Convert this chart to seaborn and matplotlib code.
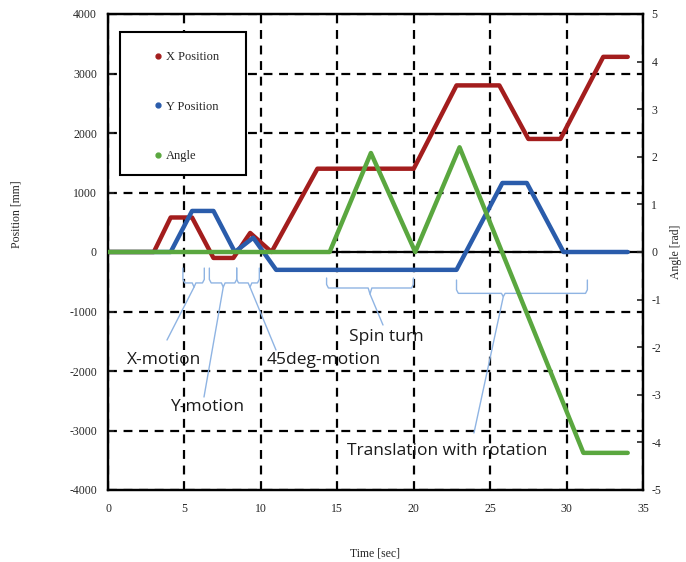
import pandas as pd
import matplotlib.pyplot as plt
import seaborn as sns
from matplotlib.lines import Line2D
from matplotlib.patches import Rectangle

# Dane
t_x = [0, 3, 4.1, 5.5, 6.9, 8.2, 9.3, 10.7, 13.7, 20, 22.8, 25.6, 27.5, 29.6, 32.4, 34]
x_pos = [0, 0, 580, 580, -100, -100, 320, 0, 1400, 1400, 2800, 2800, 1900, 1900, 3280, 3280]

t_y = [0, 4.1, 5.5, 6.9, 8.3, 9.5, 11.0, 22.8, 25.8, 27.4, 29.8, 34]
y_pos = [0, 0, 690, 690, 0, 240, -300, -300, 1160, 1160, 0, 0]

t_a = [0, 14.5, 17.2, 20.1, 23.0, 31.1, 34]
angle = [0, 0, 2.08, 0, 2.2, -4.22, -4.22]

series_names = ['X Position', 'Y Position', 'Angle']
colors = ['#a31d1d', '#2a5cab', '#5aa73f']

# Opisy fragmentów ruchu
labels = ['X-motion', 'Y-motion', '45deg-motion', 'Spin turn', 'Translation with rotation']
brace_x0 = [4.9, 6.63, 8.42, 14.3, 22.8]
brace_x1 = [6.3, 8.42, 9.9, 19.98, 31.36]
brace_mid = [5.63, 7.54, 9.29, 17.14, 25.86]
brace_top = [-270, -270, -270, -437, -471]
brace_line = [-520, -520, -520, -605, -695]
brace_tip = [-590, -590, -590, -706, -751]
lead_x = [3.86, 6.28, 10.99, 17.99, 23.94]
lead_y = [-1479, -2437, -1647, -1227, -3042]
text_x = [3.66, 6.46, 14.09, 18.23, 22.2]
text_y = [-1815, -2600, -1815, -1423, -3340]

df_x = pd.DataFrame({'t': t_x, 'v': x_pos})
df_y = pd.DataFrame({'t': t_y, 'v': y_pos})
df_a = pd.DataFrame({'t': t_a, 'v': angle})

sns.set_style('white')
plt.rcParams['font.family'] = ['Liberation Serif', 'DejaVu Serif']
plt.rcParams['axes.unicode_minus'] = False

fig = plt.figure(figsize=(6.86, 5.62), dpi=100)
ax = fig.add_axes([108 / 686, 72 / 562, 535 / 686, 476 / 562])
ax2 = ax.twinx()

sns.lineplot(data=df_x, x='t', y='v', ax=ax, color=colors[0], lw=3.2, estimator=None, zorder=4)
sns.lineplot(data=df_y, x='t', y='v', ax=ax, color=colors[1], lw=3.2, estimator=None, zorder=4)
sns.lineplot(data=df_a, x='t', y='v', ax=ax2, color=colors[2], lw=3.2, estimator=None, zorder=4)

ax.set_xlim(0, 35)
ax.set_ylim(-4000, 4000)
ax2.set_ylim(-5, 5)
ax.set_xticks(range(0, 36, 5))
ax.set_yticks(range(-4000, 4001, 1000))
ax2.set_yticks(range(-5, 6))

ax.grid(True, ls=(0, (4, 3)), color='black', lw=1.6)
ax.axhline(0, color='black', lw=1.6, zorder=2)

for a in (ax, ax2):
    for s in a.spines.values():
        s.set_color('black')
        s.set_linewidth(1.6)
ax.tick_params(axis='y', direction='in', length=4, width=1.2, labelsize=8.5, pad=8)
ax.tick_params(axis='x', length=0, labelsize=8.5, pad=9)
ax2.tick_params(axis='y', direction='in', length=4, width=1.2, labelsize=8.5, pad=6)

ax.set_xlabel('Time [sec]', fontsize=8.5)
ax.set_ylabel('Position [mm]', fontsize=8.5)
ax2.set_ylabel('Angle [rad]', fontsize=8.5, rotation=90)
ax.xaxis.set_label_coords(0.5, -0.12)
ax.yaxis.set_label_coords(-0.16, 0.58)
ax2.yaxis.set_label_coords(1.05, 0.5)

# Klamry i opisy
bc = '#8fb4e3'
for i, lab in enumerate(labels):
    x0, x1, xm = brace_x0[i], brace_x1[i], brace_mid[i]
    yt, yl, yp = brace_top[i], brace_line[i], brace_tip[i]
    d = 0.12
    bx = [x0, x0, x0 + d, xm - d, xm, xm + d, x1 - d, x1, x1]
    by = [yt, yl + 60, yl, yl, yp, yl, yl, yl + 60, yt]
    ax.plot(bx, by, color=bc, lw=1, zorder=3, solid_joinstyle='round')
    ax.plot([xm, lead_x[i]], [yp, lead_y[i]], color=bc, lw=1, zorder=3)
    ax.text(text_x[i], text_y[i], lab, ha='center', va='center', fontsize=12.5,
            family=['Open Sans', 'DejaVu Sans'], color='#1a1a1a', zorder=1)

# Legenda
ax2.add_patch(Rectangle((0.022, 0.662), 0.236, 0.3, transform=ax2.transAxes,
                        facecolor='white', edgecolor='black', lw=1.5, zorder=5))
handles = [Line2D([], [], color=c, marker='o', ls='none', markersize=3.5) for c in colors]
leg = ax2.legend(handles, series_names, loc='upper left', bbox_to_anchor=(0.075, 0.935),
                 frameon=False, fontsize=9, labelspacing=3.0, handlelength=0.6,
                 handletextpad=0.3, borderpad=0)
leg.set_zorder(6)

fig.savefig('out.png', dpi=100)
